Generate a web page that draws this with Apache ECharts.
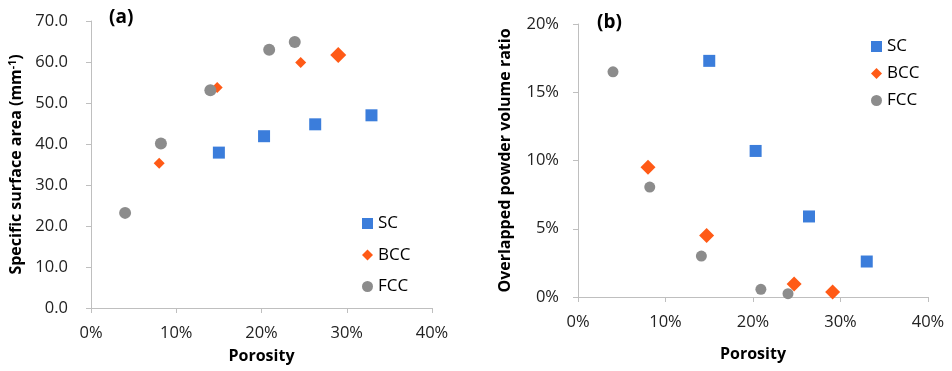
<!DOCTYPE html>
<html><head><meta charset="utf-8">
<script src="https://cdn.jsdelivr.net/npm/echarts@6/dist/echarts.min.js"></script>
<style>html,body{margin:0;padding:0;background:#fff}#c{width:952px;height:371px}</style>
</head><body><div id="c"></div>
<script>
// Panel (a): specific surface area vs porosity
const scPorosityA = [0.150, 0.203, 0.263, 0.329];
const scSSA = [37.9, 41.9, 44.8, 47.0];
const bccPorosityA = [0.080, 0.148, 0.246, 0.290];
const bccSSA = [35.3, 53.8, 59.9, 61.7];
const fccPorosityA = [0.040, 0.082, 0.140, 0.209, 0.239];
const fccSSA = [23.2, 40.1, 53.1, 63.0, 64.9];
// Panel (b): overlapped powder volume ratio vs porosity
const scPorosityB = [0.150, 0.203, 0.264, 0.330];
const scOverlap = [0.173, 0.107, 0.059, 0.026];
const bccPorosityB = [0.080, 0.147, 0.247, 0.291];
const bccOverlap = [0.095, 0.045, 0.0095, 0.0037];
const fccPorosityB = [0.040, 0.082, 0.141, 0.209, 0.240];
const fccOverlap = [0.165, 0.0805, 0.030, 0.0056, 0.0024];
const seriesNames = ['SC', 'BCC', 'FCC'];
const xTicksPct = [0, 10, 20, 30, 40];

const pair = (xs, ys) => xs.map((x, i) => [x, ys[i]]);
const FONT = "'Open Sans', 'Noto Sans', sans-serif";
const colors = {SC: '#3B7DDB', BCC: '#FF5A16', FCC: '#8C8C8C'};
const symbols = {SC: 'rect', BCC: 'diamond', FCC: 'circle'};

const axisLine = {show: true, lineStyle: {color: '#BFBFBF', width: 1}};
const axisTick = {show: true, inside: false, length: 5, lineStyle: {color: '#BFBFBF'}};
const lbl = {color: '#222', fontSize: 16.5, fontFamily: FONT};
const nameStyle = {color: '#000', fontSize: 16, fontWeight: 'bold', fontFamily: FONT};

function xAxis(gi, margin, gap) {
  return {type: 'value', gridIndex: gi, min: 0, max: 0.4, interval: 0.1,
    axisLine, axisTick, splitLine: {show: false},
    axisLabel: Object.assign({margin: margin, formatter: v => Math.round(v * 100) + '%'}, lbl),
    name: 'Porosity', nameLocation: 'middle', nameGap: gap, nameTextStyle: nameStyle};
}

const chart = echarts.init(document.getElementById('c'));
const mk = (name, gi, data, sizeFn) => ({
  name, type: 'scatter', xAxisIndex: gi, yAxisIndex: gi, data,
  symbol: symbols[name], symbolSize: sizeFn,
  itemStyle: {color: colors[name], opacity: 1}, z: name === 'FCC' ? 3 : 2
});
chart.setOption({
  animation: false,
  textStyle: {fontFamily: FONT},
  grid: [
    {left: 91, right: 520, top: 21, bottom: 63},
    {left: 578, right: 24, top: 24, bottom: 74}
  ],
  xAxis: [xAxis(0, 17, 40), xAxis(1, 17, 49)],
  yAxis: [
    {type: 'value', gridIndex: 0, min: 0, max: 70, interval: 10,
     axisLine, axisTick, splitLine: {show: false},
     axisLabel: Object.assign({margin: 23, formatter: v => v.toFixed(1)}, lbl),
     name: '{t|Specific surface area (mm}{s|-1}{t|)}', nameLocation: 'middle', nameGap: 66,
     nameTextStyle: Object.assign({}, nameStyle, {rich: {
       t: {fontSize: 16, fontWeight: 'bold', fontFamily: FONT, color: '#000'},
       s: {fontSize: 10.5, fontWeight: 'bold', fontFamily: FONT, color: '#000', verticalAlign: 'top', padding: [0, 0, 6, 0]}
     }})},
    {type: 'value', gridIndex: 1, min: 0, max: 0.2, interval: 0.05,
     axisLine, axisTick, splitLine: {show: false},
     axisLabel: Object.assign({margin: 19, formatter: v => Math.round(v * 100) + '%'}, lbl),
     name: 'Overlapped powder volume ratio', nameLocation: 'middle', nameGap: 65,
     nameTextStyle: nameStyle}
  ],
  legend: [
    {orient: 'vertical', left: 357, top: 210, itemWidth: 11, itemHeight: 11, itemGap: 14.5,
     data: seriesNames, textStyle: {fontSize: 17, color: '#000', fontFamily: FONT, lineHeight: 17}},
    {orient: 'vertical', left: 866, top: 33, itemWidth: 11, itemHeight: 11, itemGap: 10,
     data: seriesNames, textStyle: {fontSize: 17, color: '#000', fontFamily: FONT, lineHeight: 17}}
  ],
  graphic: [
    {type: 'text', left: 109, top: 8, style: {text: '(a)', font: "bold 19px 'Open Sans'", fill: '#000'}},
    {type: 'text', left: 597, top: 13, style: {text: '(b)', font: "bold 19px 'Open Sans'", fill: '#000'}}
  ],
  series: [
    mk('SC', 0, pair(scPorosityA, scSSA), 12),
    mk('BCC', 0, pair(bccPorosityA, bccSSA), (v, p) => p.dataIndex === 3 ? 16 : 11),
    mk('FCC', 0, pair(fccPorosityA, fccSSA), 12),
    mk('SC', 1, pair(scPorosityB, scOverlap), 12),
    mk('BCC', 1, pair(bccPorosityB, bccOverlap), 15),
    mk('FCC', 1, pair(fccPorosityB, fccOverlap), 11)
  ]
});
</script></body></html>
